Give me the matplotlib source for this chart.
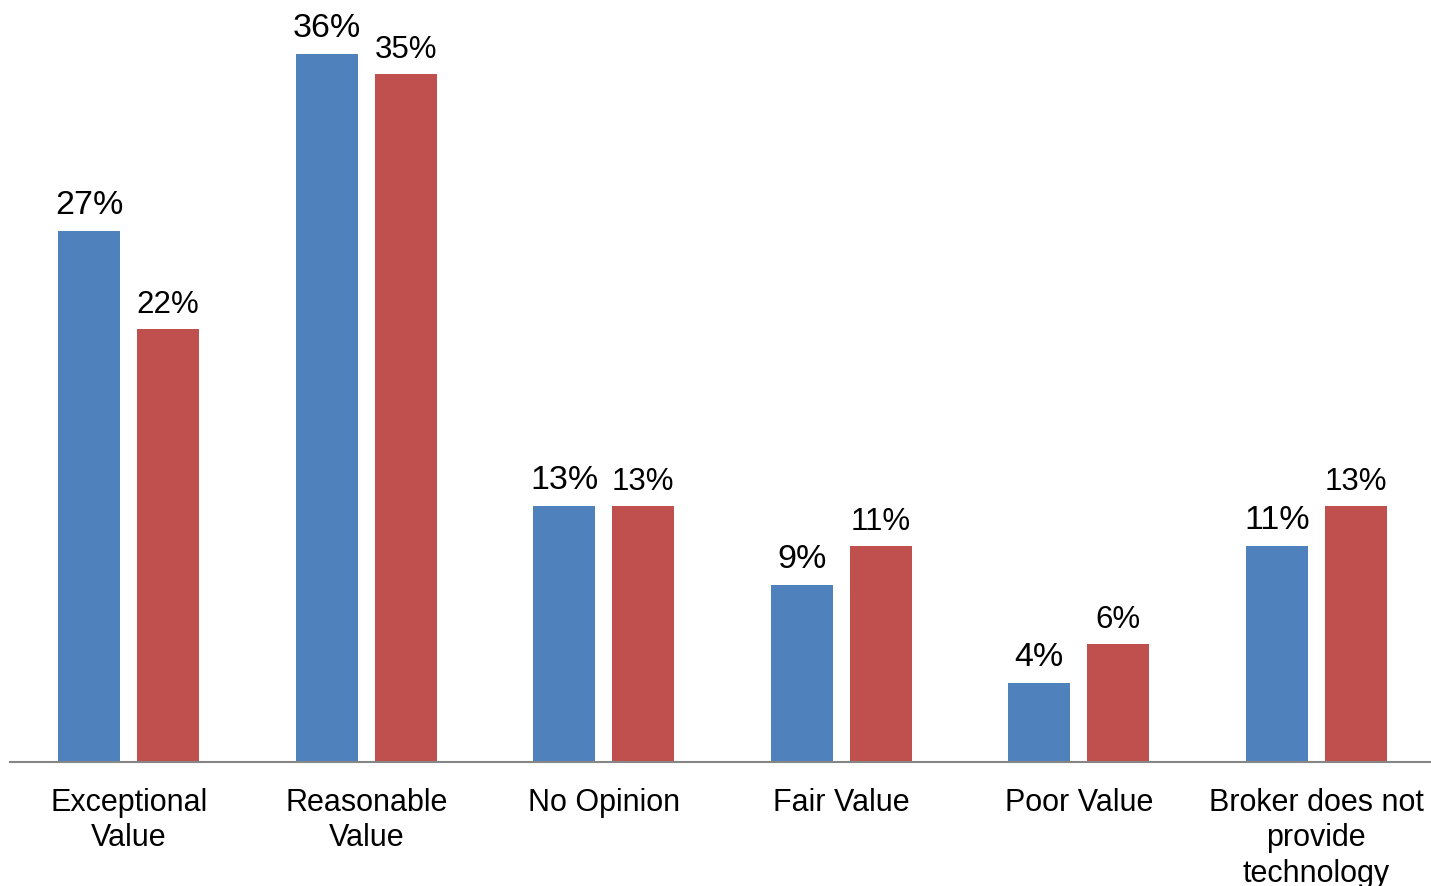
import matplotlib.pyplot as plt
import numpy as np

plt.rcParams['font.family'] = ['Liberation Sans', 'DejaVu Sans']

categories = ["Exceptional\nValue", "Reasonable\nValue", "No Opinion",
              "Fair Value", "Poor Value", "Broker does not\nprovide\ntechnology"]
blue_vals = [27, 36, 13, 9, 4, 11]
red_vals = [22, 35, 13, 11, 6, 13]

blue = "#4F81BD"
red = "#C0504D"

fig = plt.figure(figsize=(14.31, 8.86), dpi=100)
# axes from x=10px to right edge, axis line at y=762px
ax = fig.add_axes([10/1431, 1 - 762/886, 1425/1431, 762/886])

x = np.arange(len(categories))
w = 62/237.5
off = (62 + 17) / 2 / 237.5

b1 = ax.bar(x - off, blue_vals, w, color=blue)
b2 = ax.bar(x + off, red_vals, w, color=red)

for rect, v in zip(b1, blue_vals):
    ax.annotate(f"{v}%", (rect.get_x() + rect.get_width()/2, v),
                xytext=(0, 10), textcoords="offset pixels",
                ha="center", va="bottom", fontsize=24.5)
for rect, v in zip(b2, red_vals):
    ax.annotate(f"{v}%", (rect.get_x() + rect.get_width()/2, v),
                xytext=(0, 9), textcoords="offset pixels",
                ha="center", va="bottom", fontsize=22.5)

ax.set_xlim(-0.5, len(categories) - 0.5)
ax.set_ylim(0, 36 * 762 / 708)
ax.set_xticks(x)
ax.set_xticklabels(categories, fontsize=22, linespacing=1.22)
ax.tick_params(axis='x', length=0, pad=19)
ax.set_yticks([])
for s in ["top", "right", "left"]:
    ax.spines[s].set_visible(False)
ax.spines["bottom"].set_color("#868686")
ax.spines["bottom"].set_linewidth(1.5)

fig.savefig("out.png", dpi=100)
